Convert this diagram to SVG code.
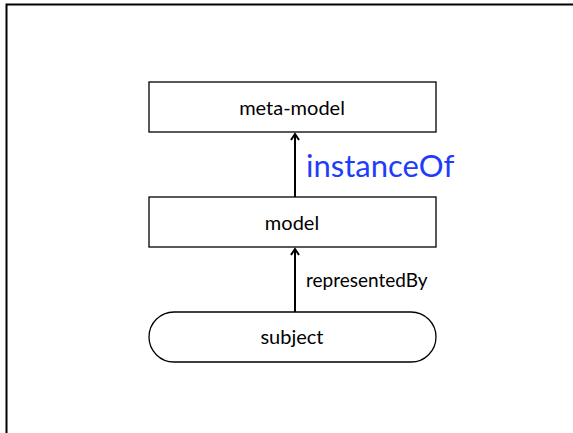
<svg xmlns="http://www.w3.org/2000/svg" width="573" height="433" viewBox="0 0 573 433">
  <style>
    .box { fill: #ffffff; stroke: #000000; stroke-width: 1.3; }
    .lbl { font-family: Lato, "Open Sans", sans-serif; font-size: 20px; fill: #000000; text-anchor: middle; }
    .edge { stroke: #000000; stroke-width: 2; fill: none; }
    .head { stroke: #000000; stroke-width: 2; fill: none; stroke-linejoin: miter; }
  </style>
  <rect width="573" height="433" fill="#ffffff"/>
  <path d="M6.5,440 V4.5 H580" fill="none" stroke="#000000" stroke-width="2"/>

  <g id="connectors">
    <line class="edge" x1="295" y1="197" x2="295" y2="134"/>
    <polyline class="head" points="291,140 295,134 299,140"/>
    <text x="306" y="177" font-family="Lato, 'Open Sans', sans-serif" font-size="31" fill="#1f3cfb">instanceOf</text>
    <line class="edge" x1="295" y1="312" x2="295" y2="249"/>
    <polyline class="head" points="291,255 295,249 299,255"/>
    <text x="306" y="287" font-family="Lato, 'Open Sans', sans-serif" font-size="19" fill="#000000">representedBy</text>
  </g>

  <g id="meta-model">
    <rect class="box" x="149" y="82" width="287" height="50"/>
    <text class="lbl" x="292" y="115">meta-model</text>
  </g>
  <g id="model">
    <rect class="box" x="149" y="197" width="287" height="50"/>
    <text class="lbl" x="292" y="230">model</text>
  </g>
  <g id="subject">
    <rect class="box" x="149" y="312" width="287" height="50" rx="25" ry="25"/>
    <text class="lbl" x="292" y="344">subject</text>
  </g>
</svg>
